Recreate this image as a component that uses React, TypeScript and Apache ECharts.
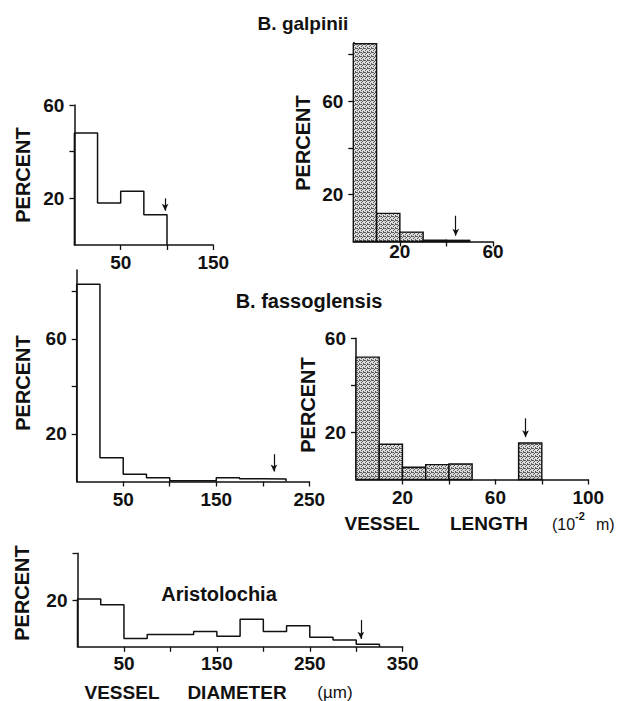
import React, { useEffect, useRef } from "react";
import * as echarts from "echarts";

// ---------- data ----------
// B. galpinii – vessel diameter (µm), bins of 25
const galDiamValues = [48, 18, 23, 13];
// B. galpinii – vessel length (10^-2 m), bins of 10
const galLenLeft = [0, 10, 20, 30, 40];
const galLenValues = [84.5, 12, 4, 0.6, 0.5];
// B. fassoglensis – vessel diameter, bins of 25
const fasDiamValues = [83, 10, 3, 1.6, 0.3, 0.3, 1.6, 1.2, 1.0];
// B. fassoglensis – vessel length, bins of 10
const fasLenLeft = [0, 10, 20, 30, 40, 70];
const fasLenValues = [52, 15, 5.2, 6.3, 6.6, 15.5];
// Aristolochia – vessel diameter, bins of 25
const ariDiamValues = [20.5, 18, 3.6, 5.3, 5.3, 6.5, 4.5, 11.8, 6.5, 9, 4.1, 2.9, 1.1];

// mean markers (arrow x value, arrow top value, arrow tip value)
const arrowX = [98, 44, 212, 73, 305];
const arrowTop = [20, 11, 11.5, 26, 11.5];
const arrowTip = [14.7, 2.5, 4.2, 18, 3.4];

// axis ticks / labels
const xTicks = [[50, 100, 150], [20, 40, 60], [50, 100, 150, 200, 250], [20, 40, 60, 80, 100], [50, 100, 150, 200, 250, 300, 350]];
const xLabels = [[50, 150], [20, 60], [50, 150, 250], [20, 60, 100], [50, 150, 250, 350]];
const yTicks = [[20, 40, 60], [20, 40, 60, 80], [20, 40, 60, 80], [20, 40, 60], [20, 40]];
const yLabels = [[20, 60], [20, 60], [20, 60], [20, 60], [20]];
const xMax = [150, 60, 250, 100, 350];
const yMax = [60, 85, 89, 60, 40];

const INK = "#111111";
const FONT = '"Liberation Sans", Arial, Helvetica, sans-serif';

function makeStipple(): any {
  try {
    const c = document.createElement("canvas");
    c.width = 4;
    c.height = 4;
    const ctx = c.getContext("2d");
    if (!ctx) return "#b0b0b0";
    ctx.fillStyle = "#dcdcdc";
    ctx.fillRect(0, 0, 4, 4);
    ctx.fillStyle = "#5a5a5a";
    [[0, 0], [2, 1], [1, 2], [3, 3], [3, 0], [1, 0]].forEach(([x, y]) => ctx.fillRect(x, y, 1, 1));
    return { image: c, repeat: "repeat" };
  } catch (e) {
    return "#b0b0b0";
  }
}

function stepPoints(width: number, values: number[]) {
  const pts: number[][] = [[0, 0]];
  values.forEach((v, i) => pts.push([i * width, v]));
  const end = values.length * width;
  pts.push([end, values[values.length - 1]]);
  pts.push([end, 0]);
  return pts;
}

function arrowLine(i: number) {
  return {
    silent: true,
    symbol: ["none", "arrow"],
    symbolSize: [5, 7],
    label: { show: false },
    emphasis: { disabled: true },
    lineStyle: { type: "solid", color: INK, width: 1.2 },
    data: [[{ coord: [arrowX[i], arrowTop[i]] }, { coord: [arrowX[i], arrowTip[i]] }]],
  };
}

const grids = [
  { left: 74.4, top: 105, width: 138.9, height: 140 },
  { left: 353.3, top: 42.5, width: 139.7, height: 199 },
  { left: 76.7, top: 270, width: 232.6, height: 211.5 },
  { left: 356, top: 338.3, width: 232.3, height: 141.2 },
  { left: 77.5, top: 553.3, width: 325.2, height: 93.5 },
];
const xLabelMargin = [8, 0, 8, 8, 7];

function barSeries(idx: number, lefts: number[], values: number[], width: number, fill: any) {
  return {
    type: "custom",
    coordinateSystem: "cartesian2d",
    xAxisIndex: idx,
    yAxisIndex: idx,
    silent: true,
    data: lefts.map((l, i) => [l, l + width, values[i]]),
    encode: { x: [0, 1], y: 2 },
    renderItem: (_p: any, api: any) => {
      const tl = api.coord([api.value(0), api.value(2)]);
      const br = api.coord([api.value(1), 0]);
      return {
        type: "rect",
        shape: { x: tl[0], y: tl[1], width: br[0] - tl[0], height: br[1] - tl[1] },
        style: { fill, stroke: INK, lineWidth: 1.4 },
      };
    },
    markLine: arrowLine(idx),
  };
}

function stepSeries(idx: number, width: number, values: number[]) {
  return {
    type: "line",
    xAxisIndex: idx,
    yAxisIndex: idx,
    step: "end",
    symbol: "none",
    silent: true,
    data: stepPoints(width, values),
    lineStyle: { color: INK, width: 1.5 },
    markLine: arrowLine(idx),
  };
}

function percentLabel(x: number, y: number) {
  return {
    type: "text",
    x,
    y,
    rotation: Math.PI / 2,
    style: {
      text: "PERCENT",
      font: `bold 20px ${FONT}`,
      fill: INK,
      align: "center",
      verticalAlign: "middle",
    },
  };
}

function txt(text: string, x: number, y: number, size: number, weight: string, align = "center") {
  return {
    type: "text",
    x,
    y,
    style: {
      text,
      font: `${weight} ${size}px ${FONT}`,
      fill: INK,
      align,
      verticalAlign: "middle",
    },
  };
}

export default function App() {
  const ref = useRef<HTMLDivElement>(null);
  useEffect(() => {
    if (!ref.current) return;
    const chart = echarts.init(ref.current, undefined, { renderer: "svg" });
    const fill = makeStipple();
    const labelStyle = { fontSize: 19, fontWeight: "bold", fontFamily: FONT, color: INK };
    const option: any = {
      animation: false,
      backgroundColor: "#ffffff",
      grid: grids.map((g) => ({ ...g, containLabel: false, outerBoundsMode: "none" })),
      xAxis: grids.map((_, i) => ({
        type: "value",
        gridIndex: i,
        min: 0,
        max: xMax[i],
        interval: i === 1 || i === 3 ? 20 : 50,
        axisLine: { show: true, onZero: false, lineStyle: { color: INK, width: 1.5 } },
        axisTick: { show: true, length: 5, customValues: xTicks[i], lineStyle: { color: INK, width: 1.3 } },
        axisLabel: {
          ...labelStyle,
          customValues: xLabels[i],
          margin: xLabelMargin[i],
          formatter: (v: number) => (xLabels[i].includes(v) ? String(v) : ""),
        },
        splitLine: { show: false },
      })),
      yAxis: grids.map((_, i) => ({
        type: "value",
        gridIndex: i,
        min: 0,
        max: yMax[i],
        interval: 20,
        axisLine: { show: true, onZero: false, lineStyle: { color: INK, width: 1.5 } },
        axisTick: { show: true, length: 5, customValues: yTicks[i], lineStyle: { color: INK, width: 1.3 } },
        axisLabel: {
          ...labelStyle,
          customValues: yLabels[i],
          margin: 10,
          formatter: (v: number) => (yLabels[i].includes(v) ? String(v) : ""),
        },
        splitLine: { show: false },
      })),
      series: [
        stepSeries(0, 25, galDiamValues),
        barSeries(1, galLenLeft, galLenValues, 10, fill),
        stepSeries(2, 25, fasDiamValues),
        barSeries(3, fasLenLeft, fasLenValues, 10, fill),
        stepSeries(4, 25, ariDiamValues),
      ],
      graphic: [
        txt("B. galpinii", 303, 23, 19, "bold"),
        txt("B. fassoglensis", 309, 301, 20, "bold"),
        txt("Aristolochia", 219, 594, 20, "bold"),
        percentLabel(23, 175),
        percentLabel(303, 143),
        percentLabel(23, 383),
        percentLabel(308, 405),
        percentLabel(22, 593),
        txt("VESSEL", 382, 523, 19, "bold"),
        txt("LENGTH", 489, 523, 19, "bold"),
        txt("(10", 552, 524, 16, "normal", "left"),
        txt("-2", 575, 516, 11, "bold", "left"),
        txt("m)", 596, 524, 16, "normal", "left"),
        txt("VESSEL", 122, 692, 19, "bold"),
        txt("DIAMETER", 237, 692, 19, "bold"),
        txt("(µm)", 335, 692, 17, "normal"),
      ],
    };
    chart.setOption(option);
    return () => chart.dispose();
  }, []);
  return (
    <div
      ref={ref}
      style={{ position: "fixed", left: 0, top: 0, width: 622, height: 701, background: "#fff" }}
    />
  );
}
